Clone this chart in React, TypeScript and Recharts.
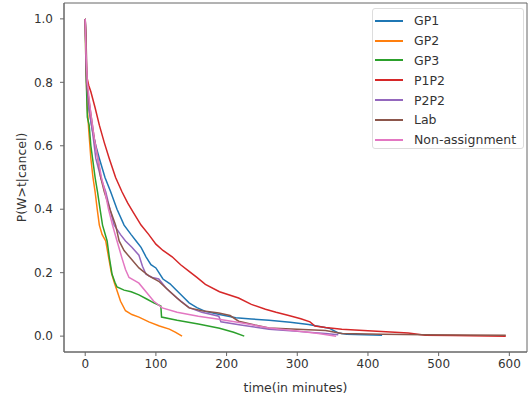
import React from 'react'
import { LineChart, Line, XAxis, YAxis, ReferenceArea } from 'recharts'

type Pt = [number, number]

// survival curves: [time in minutes, P(W>t|cancel)]
const GP1: Pt[] = [
  [0, 1.0], [2, 0.8], [5, 0.72], [10, 0.65], [15, 0.6], [20, 0.56], [28, 0.5], [36, 0.455], [45, 0.4],
  [55, 0.35], [65, 0.32], [72, 0.3], [79, 0.28], [86, 0.25], [93, 0.225], [100, 0.215], [110, 0.18],
  [120, 0.165], [128, 0.147], [138, 0.125], [147, 0.105], [158, 0.09], [170, 0.078], [190, 0.068],
  [213, 0.058], [235, 0.054], [260, 0.05], [290, 0.044], [316, 0.037], [345, 0.025], [358, 0.01],
  [370, 0.006], [420, 0.003],
]
const GP2: Pt[] = [
  [0, 1.0], [1, 0.85], [3, 0.72], [5, 0.65], [8, 0.56], [11, 0.5], [14, 0.455], [17, 0.4], [20, 0.35],
  [24, 0.32], [29, 0.3], [33, 0.25], [37, 0.2], [41, 0.17], [44, 0.15], [50, 0.11], [57, 0.08],
  [66, 0.068], [76, 0.06], [90, 0.045], [105, 0.032], [119, 0.022], [128, 0.012], [137, 0.0],
]
const GP3: Pt[] = [
  [0, 1.0], [1, 0.85], [3, 0.69], [5.6, 0.665], [8, 0.6], [10.4, 0.56], [14, 0.5], [17.4, 0.455],
  [21, 0.4], [24.5, 0.35], [31, 0.3], [34, 0.25], [38, 0.195], [42, 0.17], [45, 0.155], [55, 0.145],
  [65, 0.14], [76, 0.13], [87, 0.117], [97, 0.105], [107, 0.095], [108, 0.06], [130, 0.05],
  [160, 0.038], [190, 0.025], [210, 0.012], [225, 0.0],
]
const P1P2: Pt[] = [
  [0, 1.0], [2, 0.82], [5, 0.79], [8, 0.77], [14, 0.72], [20, 0.665], [27, 0.61], [34, 0.56], [43, 0.5],
  [52, 0.455], [60, 0.42], [68, 0.39], [79, 0.35], [90, 0.32], [100, 0.29], [110, 0.27], [123, 0.25],
  [135, 0.225], [147, 0.204], [158, 0.185], [170, 0.163], [190, 0.14], [217, 0.12], [235, 0.1],
  [255, 0.085], [270, 0.075], [288, 0.065], [305, 0.055], [318, 0.045], [325, 0.032], [340, 0.027],
  [363, 0.022], [400, 0.017], [457, 0.01], [481, 0.003], [520, 0.002], [595, 0.0],
]
const P2P2: Pt[] = [
  [0, 1.0], [2, 0.8], [5, 0.72], [10, 0.65], [15, 0.56], [22, 0.5], [29, 0.455], [35, 0.4], [41, 0.35],
  [50, 0.32], [57, 0.3], [66, 0.28], [76, 0.255], [81, 0.22], [86, 0.195], [95, 0.185], [104, 0.18],
  [115, 0.15], [130, 0.12], [147, 0.09], [165, 0.075], [189, 0.063], [192, 0.045], [220, 0.035],
  [260, 0.022], [300, 0.015], [340, 0.008], [358, 0.004],
]
const LAB: Pt[] = [
  [0, 1.0], [1, 0.95], [3, 0.78], [8, 0.7], [13, 0.62], [18, 0.56], [22, 0.5], [27, 0.455], [35, 0.4],
  [43, 0.35], [48, 0.3], [55, 0.27], [64, 0.246], [76, 0.215], [90, 0.19], [104, 0.173], [120, 0.14],
  [135, 0.11], [147, 0.089], [165, 0.08], [189, 0.073], [205, 0.065], [217, 0.047], [240, 0.035],
  [260, 0.026], [300, 0.022], [340, 0.018], [363, 0.008], [420, 0.006], [480, 0.004], [595, 0.003],
]
const NON_ASSIGN: Pt[] = [
  [0, 1.0], [1, 0.9], [3, 0.8], [8, 0.7], [13, 0.62], [18, 0.56], [23, 0.5], [28, 0.455], [33, 0.4],
  [38.6, 0.35], [45, 0.3], [52, 0.246], [57, 0.21], [62, 0.185], [70, 0.175], [76, 0.167], [86, 0.14],
  [97, 0.11], [109, 0.089], [130, 0.075], [160, 0.063], [189, 0.053], [220, 0.042], [260, 0.026],
  [300, 0.016], [330, 0.008], [355, 0.0],
]

const xTicks = [0, 100, 200, 300, 400, 500, 600]
const yTicks = [0, 0.2, 0.4, 0.6, 0.8, 1.0]

const series = [
  { name: 'GP1', pts: GP1, color: '#1f77b4' },
  { name: 'GP2', pts: GP2, color: '#ff7f0e' },
  { name: 'GP3', pts: GP3, color: '#2ca02c' },
  { name: 'P1P2', pts: P1P2, color: '#d62728' },
  { name: 'P2P2', pts: P2P2, color: '#9467bd' },
  { name: 'Lab', pts: LAB, color: '#8c564b' },
  { name: 'Non-assignment', pts: NON_ASSIGN, color: '#e377c2' },
]

const font = '"DejaVu Sans", sans-serif'
const tickStyle = { fill: '#333', fontSize: 12, fontFamily: font }

function LegendBox() {
  return (
    <div
      style={{
        position: 'absolute',
        left: 372,
        top: 8,
        width: 152,
        height: 141,
        border: '1px solid #ddd',
        borderRadius: 3,
        background: '#fff',
        fontFamily: font,
        fontSize: 12.5,
        color: '#333',
        boxSizing: 'border-box',
        paddingTop: 2,
      }}
    >
      {series.map((s) => (
        <div key={s.name} style={{ display: 'flex', alignItems: 'center', height: 19.8 }}>
          <div style={{ width: 28, height: 2, background: s.color, marginLeft: 2, marginRight: 11 }} />
          <span>{s.name}</span>
        </div>
      ))}
    </div>
  )
}

export default function App() {
  return (
    <div style={{ position: 'absolute', left: 0, top: 0, width: 529, height: 397, background: '#fff' }}>
      <LineChart width={529} height={397} margin={{ top: 3, right: 2, left: 0, bottom: 0 }}>
        <XAxis
          type="number"
          dataKey="t"
          domain={[-30, 625]}
          allowDataOverflow
          ticks={xTicks}
          tick={tickStyle}
          tickSize={4}
          tickMargin={3}
          height={45}
          stroke="#666"
          label={{ value: 'time(in minutes)', position: 'insideBottom', offset: 5, fill: '#333', fontSize: 12.5, fontFamily: font }}
        />
        <YAxis
          type="number"
          domain={[-0.05, 1.05]}
          allowDataOverflow
          ticks={yTicks}
          tickFormatter={(v: number) => v.toFixed(1)}
          tick={tickStyle}
          tickSize={4}
          tickMargin={7}
          width={64}
          stroke="#666"
          label={{ value: 'P(W>t|cancel)', angle: -90, position: 'insideLeft', offset: 22, fill: '#333', fontSize: 12.5, fontFamily: font, style: { textAnchor: 'middle' } }}
        />
        <ReferenceArea x1={-30} x2={625} y1={-0.05} y2={1.05} fill="none" stroke="#666" strokeWidth={1} ifOverflow="visible" />
        {series.map((s) => (
          <Line
            key={s.name}
            name={s.name}
            data={s.pts.map(([t, p]) => ({ t, p }))}
            dataKey="p"
            type="linear"
            stroke={s.color}
            strokeWidth={1.5}
            dot={false}
            activeDot={false}
            isAnimationActive={false}
          />
        ))}
      </LineChart>
      <LegendBox />
    </div>
  )
}
